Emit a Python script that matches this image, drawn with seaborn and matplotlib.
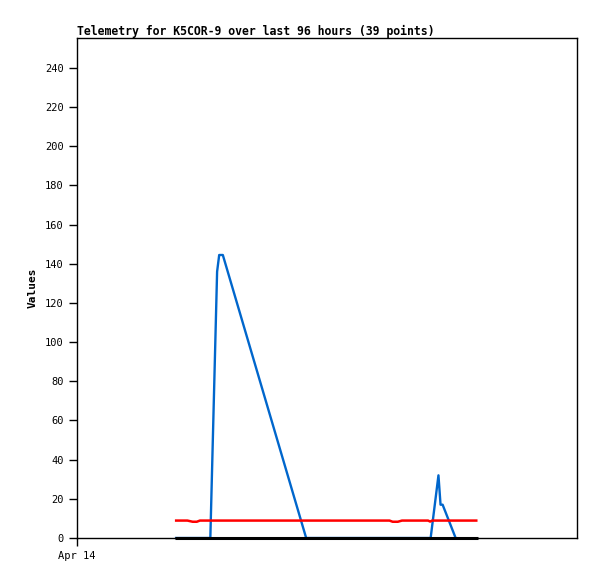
#libraries and packages
import pandas as pd
import seaborn as sns
import matplotlib.pyplot as plt

#data (x = hours since Apr 14 00:00)
blue_hours = [18.8, 25.6, 26.9, 27.3, 27.7, 28.0, 44.0, 67.9, 69.4, 69.8, 70.2, 72.7]
blue_values = [0, 0, 136, 144.5, 144.5, 144.5, 0, 0, 32, 17, 17, 0]

red_hours = [18.8, 21.2, 22.2, 23.0, 23.6, 60.0, 60.6, 61.6, 62.4, 67.4, 67.8, 68.2, 76.9]
red_values = [8.9, 8.9, 8.3, 8.3, 8.9, 8.9, 8.3, 8.3, 8.9, 8.9, 8.4, 8.9, 8.9]

black_hours = [18.8, 76.9]
black_values = [0, 0]

blue_df = pd.DataFrame({'hours': blue_hours, 'value': blue_values})
red_df = pd.DataFrame({'hours': red_hours, 'value': red_values})
black_df = pd.DataFrame({'hours': black_hours, 'value': black_values})

sns.set_style('white')
plt.rcParams['font.family'] = ['DejaVu Sans Mono', 'DejaVu Sans']

fig = plt.figure(figsize=(5.97, 5.79), dpi=100)
ax = fig.add_axes([77 / 597, 1 - 538 / 579, 500 / 597, 500 / 579])

sns.lineplot(data=blue_df, x='hours', y='value', color='#0066cc', linewidth=1.7,
             estimator=None, sort=False, ax=ax)
sns.lineplot(data=red_df, x='hours', y='value', color='#ff0000', linewidth=1.8,
             estimator=None, sort=False, ax=ax)
sns.lineplot(data=black_df, x='hours', y='value', color='black', linewidth=2.2,
             estimator=None, sort=False, ax=ax)
for ln in ax.lines:
    ln.set_clip_on(False)
    ln.set_solid_capstyle('butt')

ax.set_xlim(0, 96)
ax.set_ylim(0, 255.3)
ax.set_yticks(range(0, 241, 20))
ax.set_xticks([0])
ax.set_xticklabels(['Apr 14'])
ax.tick_params(axis='both', direction='out', length=5.5, width=1, color='black',
               labelcolor='black', labelsize=7.5, pad=4, left=True, bottom=True)
for s in ax.spines.values():
    s.set_color('black')
    s.set_linewidth(1)

ax.set_xlabel('')
ax.set_ylabel('Values', fontsize=8, fontweight='bold', labelpad=5, color='black')
ax.set_title('Telemetry for K5COR-9 over last 96 hours (39 points)',
             loc='left', fontsize=8.3, fontweight='bold', pad=2.5, color='black')

fig.savefig('out.png', dpi=100)
